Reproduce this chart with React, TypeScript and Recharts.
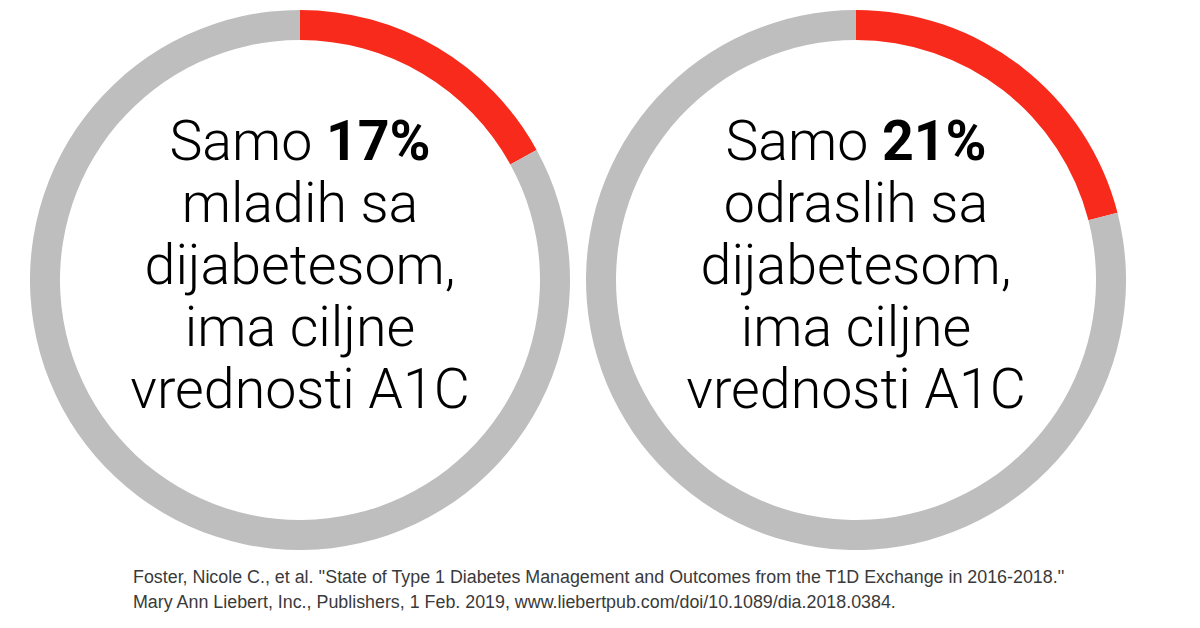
import { PieChart, Pie, Cell, Label } from 'recharts'

const groups = ['mladih', 'odraslih']
const achieved = [17, 21]
const remaining = [83, 79]
const textLines = [
  ['mladih sa', 'dijabetesom,', 'ima ciljne', 'vrednosti A1C'],
  ['odraslih sa', 'dijabetesom,', 'ima ciljne', 'vrednosti A1C'],
]
const sourceLines = [
  "Foster, Nicole C., et al. ''State of Type 1 Diabetes Management and Outcomes from the T1D Exchange in 2016-2018.''",
  'Mary Ann Liebert, Inc., Publishers, 1 Feb. 2019, www.liebertpub.com/doi/10.1089/dia.2018.0384.',
]

const RED = '#F72A1B'
const GREY = '#BEBEBE'
const centersX = [300, 856]

function centerText(idx: number) {
  return (props: any) => {
    const vb = props.viewBox || {}
    const cx = vb.cx ?? centersX[idx]
    const cy = vb.cy ?? 280
    const first = cy - 120
    return (
      <text
        x={cx}
        y={first}
        textAnchor="middle"
        fontFamily="Roboto, sans-serif"
        fontWeight={300}
        fontSize={55.5}
        fill="#000"
      >
        <tspan x={cx} y={first}>
          Samo <tspan fontWeight={700}>{achieved[idx]}%</tspan>
        </tspan>
        {textLines[idx].map((l, i) => (
          <tspan key={l + i} x={cx} y={first + (i + 1) * 62}>
            {l}
          </tspan>
        ))}
      </text>
    )
  }
}

export default function App() {
  return (
    <div style={{ position: 'absolute', left: 0, top: 0, width: 1200, height: 628, background: '#fff' }}>
      <PieChart width={1200} height={628} margin={{ top: 0, right: 0, bottom: 0, left: 0 }}>
        {groups.map((g, idx) => (
          <Pie
            key={g}
            data={[
              { name: 'da', value: achieved[idx] },
              { name: 'ne', value: remaining[idx] },
            ]}
            dataKey="value"
            cx={centersX[idx]}
            cy={280}
            innerRadius={240}
            outerRadius={270}
            startAngle={90}
            endAngle={-270}
            stroke="none"
            isAnimationActive={false}
          >
            <Cell fill={RED} />
            <Cell fill={GREY} />
            <Label position="center" content={centerText(idx)} />
          </Pie>
        ))}
      </PieChart>
      <div
        style={{
          position: 'absolute',
          left: 133,
          top: 565,
          fontFamily: 'Liberation Sans, Arial, sans-serif',
          fontSize: 17.85,
          lineHeight: '25px',
          color: '#3a3a3a',
          whiteSpace: 'nowrap',
        }}
      >
        {sourceLines.map((l) => (
          <div key={l}>{l}</div>
        ))}
      </div>
    </div>
  )
}
